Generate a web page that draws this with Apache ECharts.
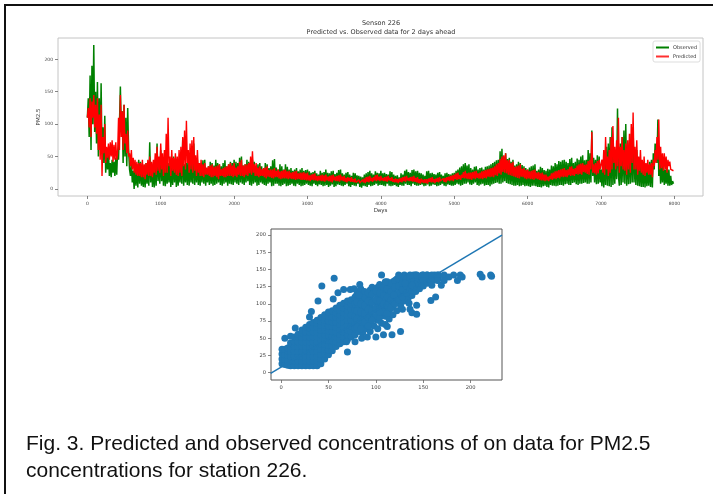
<!DOCTYPE html>
<html>
<head>
<meta charset="utf-8">
<script src="https://cdn.jsdelivr.net/npm/echarts@6/dist/echarts.min.js"></script>
<style>
html,body{margin:0;padding:0;background:#fff;}
#chart{width:714px;height:494px;}
</style>
</head>
<body>
<div id="chart"></div>
<script>
// ---------- Data ----------
const dayStep = 12.5; // one reading per 12.5 days
const observed = [
110,140,80,175,60,190,100,222,88,150,70,165,50,140,60,163,55,95,40,113,
25,55,30,60,20,40,18,45,25,42,20,48,22,60,45,100,158,90,120,40,
130,50,110,35,125,60,30,20,40,10,28,0,35,5,38,2,45,8,42,5,
30,3,35,2,40,8,30,5,72,10,40,3,35,2,45,5,70,12,38,8,
60,12,42,5,45,4,38,8,40,10,45,3,35,6,50,10,45,3,35,5,
40,10,45,8,78,5,38,10,40,6,48,5,50,10,40,8,70,6,42,10,
45,6,38,5,40,10,44,8,45,5,30,10,35,6,42,8,40,5,36,6,
45,8,40,10,38,6,35,5,40,8,44,10,35,5,38,8,42,7,40,6,
45,10,42,8,40,6,48,10,50,8,36,6,38,10,45,12,42,6,40,5,
45,8,42,10,35,5,38,6,40,10,35,8,30,6,40,5,38,8,32,10,
35,4,44,5,46,8,33,8,30,5,38,4,35,6,30,8,38,4,34,5,
30,6,32,8,28,5,30,4,32,8,27,6,30,4,32,5,28,6,29,8,
30,6,27,5,25,4,26,8,28,6,24,4,22,7,28,6,25,4,26,5,
30,6,25,3,24,5,27,7,28,3,23,4,25,7,29,6,30,5,24,4,
22,6,25,8,26,4,22,3,20,6,25,5,24,4,21,8,20,3,19,2,
18,5,22,4,24,3,26,6,28,4,24,5,22,6,27,8,25,5,24,6,
28,6,24,5,25,4,23,8,22,5,27,4,26,5,22,6,20,4,21,3,
18,6,24,5,22,5,28,8,30,6,26,6,25,4,29,8,30,6,27,5,
28,5,25,6,24,7,22,4,20,5,27,7,28,4,24,5,25,7,23,6,
22,4,25,5,26,6,22,8,20,5,24,4,25,7,23,6,22,5,24,5,
25,6,28,8,30,7,33,5,35,6,38,8,40,8,36,10,38,7,32,6,
30,8,34,10,35,6,30,5,32,7,33,8,30,5,34,6,35,6,36,4,
38,7,40,8,42,9,44,10,45,8,58,8,62,10,50,12,55,9,46,8,
48,7,42,6,45,5,36,5,38,6,42,4,40,5,37,6,35,4,32,5,
30,4,33,3,35,5,36,5,38,4,28,3,30,3,34,2,32,4,29,5,
28,3,31,2,30,6,36,5,35,5,40,4,38,5,43,6,42,6,44,5,
45,7,42,8,40,6,46,6,48,9,40,10,42,7,47,6,45,8,50,8,
52,9,44,10,45,8,60,8,55,10,90,20,48,10,45,7,52,8,50,10,
30,4,45,2,50,6,65,5,70,4,80,3,95,6,55,8,60,15,124,20,
5,70,6,80,10,90,8,100,5,65,7,75,8,85,10,95,10,55,6,60,
5,48,4,45,3,42,3,40,2,38,4,35,5,42,3,45,2,55,30,70,
72,40,107,20,45,8,38,10,40,6,30,8,35,5,30,5,20,6,12,8
];
const predicted = [
110,125,95,140,80,135,110,145,95,130,85,140,60,115,45,130,20,80,55,100,
40,65,48,70,45,72,50,75,42,68,45,72,45,55,110,60,145,80,120,60,
130,70,85,55,90,50,55,35,60,30,48,25,45,22,42,20,40,20,40,18,
45,18,38,15,40,22,45,20,50,20,42,18,45,25,55,22,65,28,50,25,
70,30,55,20,60,25,85,25,110,35,50,20,60,28,48,25,55,22,50,20,
60,25,65,20,80,35,90,30,105,40,60,25,70,30,75,25,80,28,52,20,
60,25,40,20,45,20,38,18,40,22,33,22,35,20,36,18,38,18,34,20,
35,18,36,15,38,20,30,20,32,18,34,18,35,20,38,20,40,20,36,18,
40,20,33,18,35,22,42,20,45,20,36,18,38,21,38,20,40,24,50,22,
58,25,38,20,40,20,33,18,35,20,30,20,32,18,33,16,35,19,29,18,
30,17,30,16,32,18,28,18,30,16,27,15,28,16,29,16,30,16,27,15,
28,16,25,15,26,15,27,14,28,15,24,15,25,14,25,14,26,14,24,13,
25,13,21,12,22,14,23,13,24,13,20,12,20,13,21,12,22,12,21,11,
22,13,19,12,20,11,21,10,22,13,19,12,20,12,21,11,22,13,19,12,
20,11,17,10,18,12,17,11,18,11,15,10,16,10,13,9,14,9,12,8,
14,10,16,9,18,11,19,10,20,12,17,11,18,13,21,12,22,13,19,12,
20,13,17,12,18,12,19,11,20,13,17,12,18,11,15,10,16,10,15,9,
16,11,17,10,18,12,19,11,20,13,17,12,18,12,19,11,20,11,17,10,
18,9,15,8,16,10,14,9,15,9,15,8,16,11,17,10,18,10,15,9,
16,11,17,10,18,12,15,11,16,11,17,10,18,13,19,12,20,13,21,12,
22,15,24,14,25,15,21,14,22,17,26,16,28,16,24,15,25,15,25,14,
26,16,27,15,28,17,24,16,25,16,27,15,28,17,29,16,30,19,31,18,
32,19,33,18,35,21,38,20,40,24,46,22,50,26,52,25,55,24,44,22,
45,21,40,20,42,19,34,18,35,17,36,16,38,19,31,18,32,16,29,15,
30,16,27,15,28,15,29,14,30,16,25,15,26,14,24,13,25,13,22,12,
22,13,19,12,20,15,24,14,25,16,27,15,28,17,29,16,30,19,31,18,
32,19,29,18,30,21,34,20,35,21,31,20,32,23,36,22,38,23,39,22,
40,26,37,25,38,23,43,22,45,30,88,25,38,24,40,22,43,24,45,30,
30,45,25,60,22,80,30,50,20,60,25,80,30,97,40,65,30,75,35,110,
25,65,35,80,30,60,28,70,22,75,30,85,25,100,40,118,30,65,30,75,
22,50,28,60,25,45,22,50,20,40,25,45,22,38,22,40,18,45,35,60,
40,80,45,107,30,65,32,55,28,55,30,50,25,45,35,42,30,33,27,28
];
const dayTicks = [0,1000,2000,3000,4000,5000,6000,7000,8000];
const pmTicks = [0,50,100,150,200];
const scatterXTicks = [0,50,100,150,200];
const scatterYTicks = [0,25,50,75,100,125,150,175,200];

// scatter: [observed, predicted]
const scatterPts = [
[1,13],[1,20],[1,27],[1,34],
[4,12],[4,19],[4,26],[4,34],
[7,11],[7,18],[7,25],[7,32],[7,36],
[10,10],[10,17],[10,24],[10,31],[10,38],[10,43],
[14,10],[14,17],[14,24],[14,31],[14,38],[14,45],[14,52],
[18,10],[18,17],[18,24],[18,31],[18,38],[18,45],[18,52],[18,56],
[22,10],[22,17],[22,24],[22,31],[22,38],[22,45],[22,52],[22,58],[22,62],
[26,10],[26,17],[26,24],[26,31],[26,38],[26,45],[26,52],[26,59],[26,66],
[30,10],[30,17],[30,24],[30,31],[30,38],[30,45],[30,52],[30,59],[30,65],[30,70],
[34,10],[34,17],[34,24],[34,31],[34,38],[34,45],[34,52],[34,59],[34,66],[34,73],
[38,10],[38,17],[38,24],[38,31],[38,38],[38,45],[38,52],[38,59],[38,66],[38,72],[38,76],
[42,13],[42,20],[42,27],[42,34],[42,41],[42,48],[42,55],[42,62],[42,69],[42,75],[42,80],
[46,20],[46,27],[46,34],[46,41],[46,48],[46,55],[46,62],[46,69],[46,76],[46,84],
[50,26],[50,33],[50,40],[50,47],[50,54],[50,61],[50,68],[50,75],[50,82],[50,88],
[54,32],[54,39],[54,46],[54,53],[54,60],[54,67],[54,74],[54,81],[54,90],
[58,38],[58,45],[58,52],[58,59],[58,66],[58,73],[58,80],[58,87],[58,94],
[62,42],[62,49],[62,56],[62,63],[62,70],[62,77],[62,84],[62,91],[62,98],
[66,45],[66,52],[66,59],[66,66],[66,73],[66,80],[66,87],[66,94],[66,101],
[70,48],[70,55],[70,62],[70,69],[70,76],[70,83],[70,90],[70,97],[70,104],
[74,52],[74,60],[74,68],[74,76],[74,84],[74,92],[74,100],[74,106],
[78,55],[78,64],[78,73],[78,82],[78,91],[78,100],[78,110],
[82,60],[82,72],[82,84],[82,96],[82,108],[82,118],
[86,58],[86,70],[86,82],[86,94],[86,106],
[90,64],[90,76],[90,88],[90,100],[90,112],
[94,60],[94,72],[94,84],[94,96],[94,108],[94,120],
[98,68],[98,80],[98,92],[98,104],[98,116],
[102,64],[102,76],[102,88],[102,100],[102,112],[102,124],
[106,72],[106,84],[106,96],[106,108],[106,120],
[110,70],[110,82],[110,94],[110,106],[110,118],[110,128],
[114,78],[114,90],[114,102],[114,114],[114,126],
[118,84],[118,96],[118,108],[118,120],[118,132],
[122,90],[122,102],[122,114],[122,126],[122,136],
[126,98],[126,110],[126,120],[126,130],[126,140],
[130,104],[130,114],[130,124],[130,134],[130,142],
[134,108],[134,118],[134,128],[134,138],
[138,112],[138,122],[138,132],[138,141],
[142,118],[142,128],[142,137],[142,142],
[146,122],[146,131],[146,140],
[150,126],[150,134],[150,142],
[154,130],[154,137],[154,142],
[158,132],[158,139],
[162,135],[162,142],
[166,138],[166,142],
[80,66],[80,78],[80,90],[80,102],[80,114],
[84,64],[84,76],[84,88],[84,100],[84,112],[84,122],
[88,74],[88,86],[88,98],[88,110],[88,118],
[92,68],[92,80],[92,92],[92,104],[92,116],
[96,78],[96,90],[96,102],[96,114],[96,124],
[100,82],[100,94],[100,106],[100,118],
[104,80],[104,92],[104,104],[104,116],[104,128],
[108,88],[108,100],[108,112],[108,124],
[112,86],[112,98],[112,110],[112,122],[112,132],
[116,94],[116,106],[116,118],[116,130],
[120,100],[120,112],[120,124],[120,134],
[124,106],[124,116],[124,126],[124,136],
[128,110],[128,120],[128,130],[128,140],
[132,116],[132,126],[132,136],
[136,120],[136,130],[136,140],
[140,125],[140,134],[140,142],
[144,130],[144,138],
[148,132],[148,140],
[152,136],[156,140],[160,141],
[56,137],[43,126],[39,104],[32,89],[30,81],[15,65],[10,53],[4,50],[60,116],[55,107],
[66,121],[73,121],[77,122],[83,128],[82,113],[70,30],[69,45],[78,45],[85,50],[91,52],
[100,52],[108,55],[117,55],[126,60],[112,67],[96,76],[104,88],[106,142],[110,132],[119,113],
[124,142],[131,130],[138,127],[128,92],[136,92],[138,87],[143,85],[135,101],[143,98],[136,142],
[143,142],[149,142],[154,142],[159,142],[165,142],[172,142],[150,134],[158,134],[165,134],[158,105],
[163,110],[159,127],[169,127],[177,139],[182,142],[186,134],[189,142],[191,139],[210,143],[212,139],
[221,142],[222,140],[172,134]
];
const fitSlope = 0.823;
const fitIntercept = 8.0;
const fitRange = [-11, 233];

const titleLines = ['Senson 226', 'Predicted vs. Observed data for 2 days ahead'];
const yAxisTitle = 'PM2.5';
const captionLines = ['Fig. 3. Predicted and observed concentrations of on data for PM2.5', 'concentrations for station 226.'];

// ---------- Chart ----------
const chart = echarts.init(document.getElementById('chart'), null, {renderer: 'canvas'});
const obsData = observed.map((v, i) => [i * dayStep, v]);
const predData = predicted.map((v, i) => [i * dayStep, v]);
const fitData = fitRange.map(x => [x, fitIntercept + fitSlope * x]);

const tickFont = 'DejaVu Sans';
const plain = v => String(v);
function valAxis(gridIndex, min, max, ticks, fontSize, extra) {
  return Object.assign({
    type: 'value', gridIndex, min, max,
    splitLine: {show: false},
    axisLine: {show: false, onZero: false},
    axisTick: {show: true, inside: false, length: 3, customValues: ticks, lineStyle: {color: '#666', width: 0.8}},
    axisLabel: {customValues: ticks, formatter: plain, fontSize, color: '#444', margin: 5, fontFamily: tickFont},
  }, extra || {});
}

chart.setOption({
  animation: false,
  backgroundColor: '#fff',
  grid: [
    {left: 58, top: 38, width: 645, height: 158, show: true, borderColor: '#c4c4c4', borderWidth: 1, containLabel: false},
    {left: 271, top: 229, width: 231, height: 151, show: true, borderColor: '#555', borderWidth: 1, containLabel: false}
  ],
  xAxis: [
    valAxis(0, -400, 8390, dayTicks, 4.5, {
      name: 'Days', nameLocation: 'middle', nameGap: 12,
      nameTextStyle: {fontSize: 5.5, color: '#333', fontFamily: tickFont}}),
    valAxis(1, -10.6, 233, scatterXTicks, 5.2)
  ],
  yAxis: [
    valAxis(0, -11, 233, pmTicks, 4.5),
    valAxis(1, -10.6, 208.7, scatterYTicks, 5.2)
  ],
  legend: {
    data: ['Observed', 'Predicted'],
    orient: 'vertical', left: 653, top: 41,
    icon: 'rect', itemWidth: 13, itemHeight: 2, itemGap: 4,
    padding: [4, 3, 3, 3],
    backgroundColor: '#fff', borderColor: '#ddd', borderWidth: 1, borderRadius: 2,
    textStyle: {fontSize: 5, color: '#333', fontFamily: tickFont, padding: [0, 0, 0, -1]}
  },
  series: [
    {name: 'Observed', type: 'line', xAxisIndex: 0, yAxisIndex: 0, data: obsData,
      showSymbol: false, symbol: 'none', lineStyle: {color: '#008000', width: 1.5}, itemStyle: {color: '#008000'}, z: 2},
    {name: 'Predicted', type: 'line', xAxisIndex: 0, yAxisIndex: 0, data: predData,
      showSymbol: false, symbol: 'none', lineStyle: {color: '#ff0000', width: 1.4}, itemStyle: {color: '#ff3030'}, z: 3},
    {type: 'scatter', xAxisIndex: 1, yAxisIndex: 1, data: scatterPts, symbolSize: 7,
      itemStyle: {color: '#1f77b4', opacity: 1}, z: 2},
    {type: 'line', xAxisIndex: 1, yAxisIndex: 1, data: fitData, showSymbol: false, symbol: 'none',
      lineStyle: {color: '#1f77b4', width: 1.5}, z: 3}
  ],
  graphic: [
    {type: 'line', shape: {x1: 4, y1: 5, x2: 713, y2: 5}, style: {stroke: '#111', lineWidth: 2}},
    {type: 'line', shape: {x1: 5, y1: 4, x2: 5, y2: 494}, style: {stroke: '#111', lineWidth: 2}},
    {type: 'text', x: 381, y: 23, style: {text: titleLines[0], align: 'center', verticalAlign: 'middle', font: '6.5px "DejaVu Sans"', fill: '#333'}},
    {type: 'text', x: 381, y: 32, style: {text: titleLines[1], align: 'center', verticalAlign: 'middle', font: '6.5px "DejaVu Sans"', fill: '#333'}},
    {type: 'text', x: 38.5, y: 117, rotation: Math.PI / 2, style: {text: yAxisTitle, align: 'center', verticalAlign: 'middle', font: '5.5px "DejaVu Sans"', fill: '#333'}},
    {type: 'text', x: 26, y: 444, style: {text: captionLines[0], align: 'left', verticalAlign: 'middle', font: '21px "Liberation Sans"', fill: '#111'}},
    {type: 'text', x: 26, y: 471, style: {text: captionLines[1], align: 'left', verticalAlign: 'middle', font: '21px "Liberation Sans"', fill: '#111'}}
  ]
});
</script>
</body>
</html>
